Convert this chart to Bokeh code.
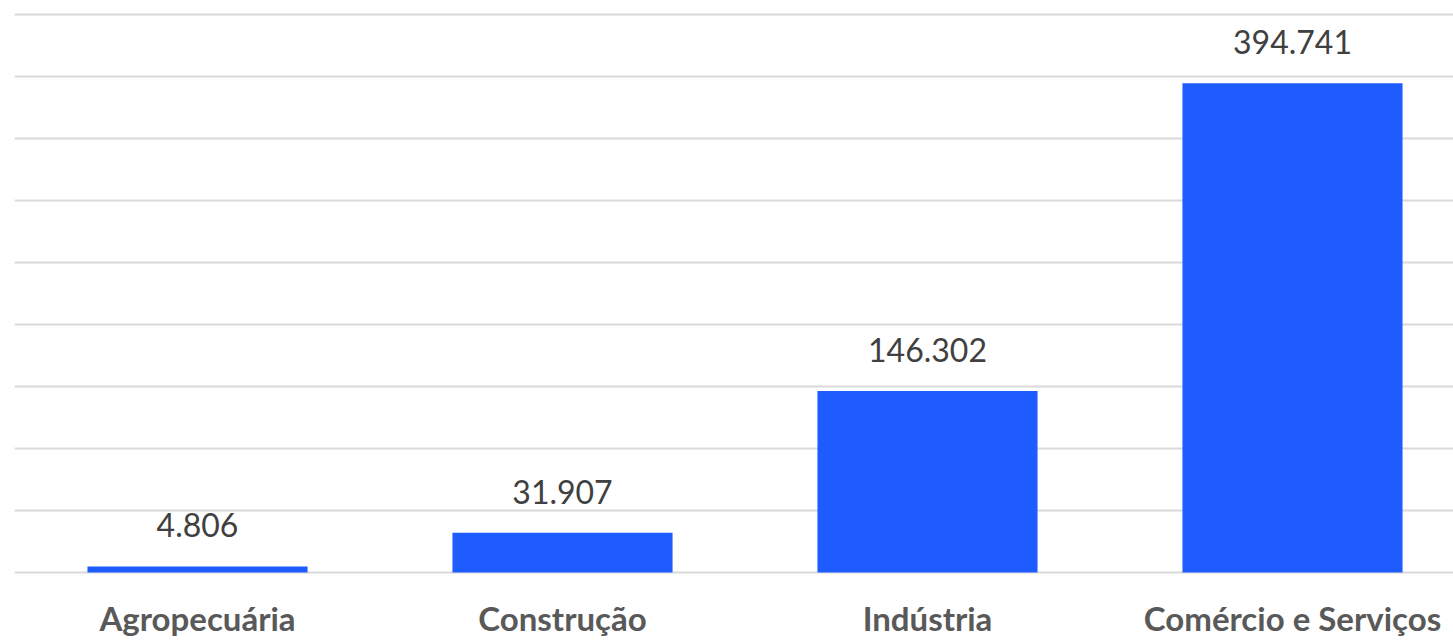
from bokeh.plotting import figure
from bokeh.models import ColumnDataSource, Range1d, SingleIntervalTicker, FixedTicker, LabelSet
from bokeh.core.properties import value
from bokeh.embed import file_html
from bokeh.resources import INLINE

categories = ["Agropecuária", "Construção", "Indústria", "Comércio e Serviços"]
values = [4806, 31907, 146302, 394741]
value_labels = ["4.806", "31.907", "146.302", "394.741"]

positions = list(range(len(categories)))
source = ColumnDataSource(dict(x=positions, top=values, label=value_labels))

p = figure(frame_width=1439, frame_height=567, output_backend="svg", toolbar_location=None,
           x_range=Range1d(-0.5014, 3.4411), y_range=Range1d(-2500, 455000),
           min_border_left=14, min_border_right=0, min_border_top=8, min_border_bottom=65)

p.vbar(x="x", top="top", width=0.603, bottom=0, source=source,
       fill_color="#1f5cff", line_color=None)

labels = LabelSet(x="x", y="top", text="label", source=source, y_offset=29,
                  text_align="center", text_baseline="alphabetic",
                  text_font=value("Lato"), text_font_size="32px", text_color="#404040")
p.add_layout(labels)

p.xaxis.ticker = FixedTicker(ticks=positions)
p.xaxis.major_label_overrides = {i: c for i, c in zip(positions, categories)}
p.xaxis.axis_line_color = None
p.xaxis.major_tick_line_color = None
p.xaxis.minor_tick_line_color = None
p.xaxis.major_tick_in = 0
p.xaxis.major_tick_out = 0
p.xaxis.major_label_standoff = 22
p.xaxis.major_label_text_font = "Lato"
p.xaxis.major_label_text_font_style = "bold"
p.xaxis.major_label_text_font_size = "33px"
p.xaxis.major_label_text_color = "#595959"

p.yaxis.ticker = SingleIntervalTicker(interval=50000)
p.yaxis.visible = False
p.xgrid.grid_line_color = None
p.ygrid.grid_line_color = "#d9d9d9"
p.ygrid.grid_line_width = 2
p.outline_line_color = None
p.background_fill_color = "white"
p.border_fill_color = "white"

open("out.html", "w").write(file_html(p, INLINE))
